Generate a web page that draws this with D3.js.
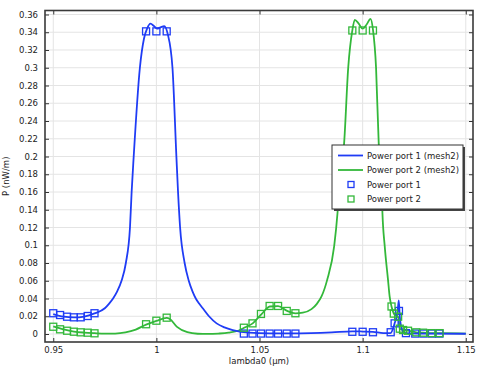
<!DOCTYPE html>
<html><head><meta charset="utf-8">
<script src="https://cdn.jsdelivr.net/npm/d3@7"></script>
<style>body{margin:0;background:#fff}svg{display:block}text{font-family:"DejaVu Sans",sans-serif;fill:#222}</style>
</head><body><svg id="c" width="479" height="366"></svg>
<script>
// Blue line: Power port 1 (mesh2)
const line1X = [0.95,0.955,0.96,0.965,0.97,0.975,0.977,0.979,0.981,0.9831,0.9852,0.9872,0.988,0.989,0.992,0.994,0.9955,0.9971,0.9988,1.0003,1.002,1.0038,1.0055,1.0078,1.0097,1.0105,1.0115,1.0137,1.0157,1.0175,1.0191,1.0208,1.0225,1.0255,1.0292,1.033,1.037,1.045,1.055,1.065,1.075,1.085,1.095,1.1,1.105,1.11,1.1135,1.1155,1.117,1.1175,1.118,1.119,1.121,1.13,1.15];
const line1Y = [0.0225,0.0195,0.0187,0.0197,0.0232,0.029,0.034,0.04,0.048,0.06,0.08,0.12,0.16,0.2,0.3,0.333,0.344,0.3496,0.347,0.344,0.3455,0.347,0.338,0.3,0.2,0.16,0.12,0.08,0.06,0.048,0.04,0.034,0.029,0.02,0.012,0.0075,0.0045,0.0015,0.0008,0.0007,0.001,0.0018,0.003,0.0028,0.0025,0.001,0.001,0.012,0.026,0.038,0.02,0.006,0.001,0.0005,0.0003];
// Green line: Power port 2 (mesh2)
const line2X = [0.95,0.955,0.96,0.965,0.97,0.975,0.98,0.985,0.99,0.995,1.0,1.005,1.0065,1.01,1.015,1.02,1.025,1.03,1.035,1.04,1.0425,1.0467,1.051,1.055,1.059,1.0634,1.0674,1.071,1.0752,1.0778,1.08,1.0828,1.0862,1.0878,1.0889,1.091,1.093,1.095,1.0962,1.098,1.1,1.102,1.1038,1.105,1.1065,1.1078,1.1091,1.1096,1.1107,1.1123,1.1131,1.114,1.1151,1.1165,1.1172,1.118,1.1196,1.122,1.126,1.1293,1.1333,1.1373,1.15];
const line2Y = [0.0085,0.0052,0.0028,0.0016,0.0009,0.0004,0.0005,0.0018,0.005,0.0105,0.0148,0.0182,0.017,0.008,0.002,0.0003,0.0001,0.0005,0.0015,0.004,0.007,0.012,0.0225,0.031,0.0315,0.026,0.0232,0.024,0.028,0.034,0.042,0.061,0.099,0.136,0.174,0.2145,0.3,0.342,0.354,0.35,0.344,0.349,0.355,0.343,0.3,0.2145,0.174,0.136,0.099,0.061,0.042,0.031,0.023,0.02,0.0195,0.006,0.0045,0.0037,0.0019,0.0015,0.001,0.001,0.0005];
// Markers: Power port 1
const mark1X = [0.95,0.9533,0.9567,0.96,0.9633,0.9667,0.97,0.995,1.0,1.005,1.0424,1.0466,1.0507,1.0549,1.059,1.0632,1.0674,1.095,1.1,1.105,1.1136,1.1155,1.1176,1.121,1.1255,1.1295,1.1336,1.1372];
const mark1Y = [0.0234,0.0214,0.0195,0.0188,0.0188,0.0203,0.0234,0.341,0.341,0.341,0.0005,0.0005,0.0005,0.0005,0.0005,0.0005,0.0005,0.0025,0.0025,0.002,0.002,0.012,0.026,0.001,0.0005,0.0005,0.0005,0.0005];
// Markers: Power port 2
const mark2X = [0.95,0.9533,0.9567,0.96,0.9633,0.9667,0.97,0.995,1.0,1.005,1.0424,1.0466,1.0507,1.0549,1.059,1.0632,1.0674,1.095,1.1,1.105,1.114,1.1151,1.1172,1.118,1.1196,1.122,1.126,1.1293,1.1333,1.1373];
const mark2Y = [0.0082,0.0053,0.0037,0.0026,0.0019,0.0015,0.0008,0.011,0.015,0.0184,0.0071,0.012,0.0226,0.0316,0.0316,0.026,0.0234,0.342,0.342,0.342,0.031,0.023,0.0195,0.006,0.0045,0.0037,0.0019,0.0015,0.001,0.001];
const xTicks = [0.95,1.0,1.05,1.1,1.15];
const xTickLabels = ["0.95","1","1.05","1.1","1.15"];
const yTicks = [0,0.02,0.04,0.06,0.08,0.1,0.12,0.14,0.16,0.18,0.2,0.22,0.24,0.26,0.28,0.3,0.32,0.34,0.36];
const yTickLabels = ["0","0.02","0.04","0.06","0.08","0.1","0.12","0.14","0.16","0.18","0.2","0.22","0.24","0.26","0.28","0.3","0.32","0.34","0.36"];
const legendLabels = ["Power port 1 (mesh2)","Power port 2 (mesh2)","Power port 1","Power port 2"];

const BLUE = "#1f3cf5", GREEN = "#33b83a";
const L = 45, R = 473, T = 10.5, B = 342;
const svg = d3.select("#c");
const x = d3.scaleLinear().domain([0.946, 1.1535]).range([L, R]);
const y = d3.scaleLinear().domain([-0.009, 0.3645]).range([B, T]);

// grid
const g = svg.append("g");
g.selectAll(".gx").data(xTicks).enter().append("line")
  .attr("x1", d => x(d)).attr("x2", d => x(d)).attr("y1", T).attr("y2", B)
  .attr("stroke", "#e4e4e4").attr("stroke-width", 1);
g.selectAll(".gy").data(yTicks).enter().append("line")
  .attr("x1", L).attr("x2", R).attr("y1", d => y(d)).attr("y2", d => y(d))
  .attr("stroke", "#e4e4e4").attr("stroke-width", 1);

// axes
const axB = d3.axisBottom(x).tickValues(xTicks).tickFormat((d,i) => xTickLabels[i]).tickSizeInner(-4).tickSizeOuter(0).tickPadding(5);
const axT = d3.axisTop(x).tickValues(xTicks).tickFormat("").tickSizeInner(-4).tickSizeOuter(0);
const axL = d3.axisLeft(y).tickValues(yTicks).tickFormat((d,i) => yTickLabels[i]).tickSizeInner(-4).tickSizeOuter(0).tickPadding(7);
const axR = d3.axisRight(y).tickValues(yTicks).tickFormat("").tickSizeInner(-4).tickSizeOuter(0);
function style(sel){
  sel.select(".domain").remove();
  sel.selectAll(".tick line").attr("stroke", "#333").attr("stroke-width", 1);
  sel.selectAll(".tick text").style("font-family", '"DejaVu Sans",sans-serif').style("font-size", "8.5px").attr("fill", "#222");
}
svg.append("g").attr("transform", `translate(0,${B})`).call(axB).call(style);
svg.append("g").attr("transform", `translate(0,${T})`).call(axT).call(style);
svg.append("g").attr("transform", `translate(${L},0)`).call(axL).call(style);
svg.append("g").attr("transform", `translate(${R},0)`).call(axR).call(style);

// clip
svg.append("clipPath").attr("id", "clip").append("rect").attr("x", L).attr("y", T).attr("width", R - L).attr("height", B - T);
const plot = svg.append("g").attr("clip-path", "url(#clip)");
const lineGen = d3.line().x(d => x(d[0])).y(d => y(d[1])).curve(d3.curveMonotoneX);
plot.append("path").datum(line2X.map((v,i) => [v, line2Y[i]])).attr("d", lineGen).attr("fill", "none").attr("stroke", GREEN).attr("stroke-width", 1.8);
plot.append("path").datum(line1X.map((v,i) => [v, line1Y[i]])).attr("d", lineGen).attr("fill", "none").attr("stroke", BLUE).attr("stroke-width", 1.8);

const S = 7;
plot.selectAll(".m1").data(mark1X.map((v,i) => [v, mark1Y[i]])).enter().append("rect")
  .attr("x", d => x(d[0]) - S/2).attr("y", d => y(d[1]) - S/2).attr("width", S).attr("height", S)
  .attr("fill", "none").attr("stroke", BLUE).attr("stroke-width", 1.3);
plot.selectAll(".m2").data(mark2X.map((v,i) => [v, mark2Y[i]])).enter().append("rect")
  .attr("x", d => x(d[0]) - S/2).attr("y", d => y(d[1]) - S/2).attr("width", S).attr("height", S)
  .attr("fill", "none").attr("stroke", GREEN).attr("stroke-width", 1.3);

// frame
svg.append("rect").attr("x", L).attr("y", T).attr("width", R - L).attr("height", B - T)
  .attr("fill", "none").attr("stroke", "#3a3a3a").attr("stroke-width", 1.6);

// axis labels
svg.append("text").attr("x", (L + R) / 2).attr("y", 364).attr("text-anchor", "middle").style("font-size", "8.5px").text("lambda0 (µm)");
svg.append("text").attr("transform", `translate(9,${(T + B) / 2}) rotate(-90)`).attr("text-anchor", "middle").style("font-size", "8.5px").text("P (nW/m)");

// legend
const lg = svg.append("g");
const lx = 332, ly = 145, lw = 131, lh = 64;
lg.append("rect").attr("x", lx + 2).attr("y", ly + 2).attr("width", lw).attr("height", lh).attr("fill", "#444");
lg.append("rect").attr("x", lx).attr("y", ly).attr("width", lw).attr("height", lh).attr("fill", "#fff").attr("stroke", "#333").attr("stroke-width", 1);
const colors = [BLUE, GREEN, BLUE, GREEN];
legendLabels.forEach((t, i) => {
  const yy = ly + 10.5 + i * 14.5;
  if (i < 2) {
    lg.append("line").attr("x1", lx + 6).attr("x2", lx + 31).attr("y1", yy).attr("y2", yy).attr("stroke", colors[i]).attr("stroke-width", 1.8);
  } else {
    lg.append("rect").attr("x", lx + 16).attr("y", yy - 3).attr("width", 6).attr("height", 6).attr("fill", "none").attr("stroke", colors[i]).attr("stroke-width", 1.3);
  }
  lg.append("text").attr("x", lx + 35).attr("y", yy + 3).style("font-size", "8.5px").text(t);
});
</script></body></html>
